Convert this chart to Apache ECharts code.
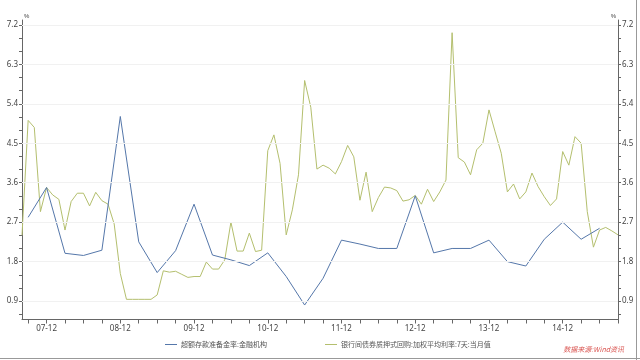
<!DOCTYPE html>
<html><head><meta charset="utf-8">
<script src="https://cdn.jsdelivr.net/npm/echarts@6/dist/echarts.min.js"></script>
<style>html,body{margin:0;padding:0;background:#fff}#c{width:640px;height:360px}</style>
</head><body><div id="c"></div>
<script>
// Monthly categories Aug 2007 .. Sep 2015
const startYear = 2007, startMonth = 8, monthCount = 98;
const months = [];
for (let i = 0; i < monthCount; i++) {
  const t = startYear * 12 + (startMonth - 1) + i;
  const y = Math.floor(t / 12), m = t % 12 + 1;
  months.push(y + '-' + (m < 10 ? '0' + m : '' + m));
}
const seriesBlueName = '超额存款准备金率:金融机构';
const seriesGreenName = '银行间债券质押式回购:加权平均利率:7天:当月值';
// quarterly excess reserve ratio
const blueQuarters = ['2007-09','2007-12','2008-03','2008-06','2008-09','2008-12','2009-03','2009-06','2009-09','2009-12',
  '2010-03','2010-06','2010-09','2010-12','2011-03','2011-06','2011-09','2011-12','2012-03','2012-06','2012-09','2012-12',
  '2013-03','2013-06','2013-09','2013-12','2014-03','2014-06','2014-09','2014-12','2015-03','2015-06'];
const blueValues = [2.81,3.49,1.99,1.94,2.06,5.11,2.25,1.55,2.05,3.11,1.95,1.84,1.71,2.00,1.46,0.81,1.42,2.29,2.20,2.10,2.10,3.30,
  2.00,2.10,2.10,2.29,1.80,1.70,2.31,2.70,2.31,2.56];
// monthly 7-day repo rate
const greenValues = [2.40,5.02,4.86,2.94,3.49,3.32,3.22,2.52,3.17,3.36,3.36,3.07,3.38,3.19,3.11,2.66,1.53,0.94,0.94,0.94,
  0.94,0.94,1.04,1.59,1.56,1.58,1.51,1.44,1.46,1.46,1.79,1.63,1.63,1.84,2.70,2.04,2.04,2.45,2.03,2.06,
  4.33,4.69,4.04,2.41,2.98,3.78,5.93,5.32,3.91,4.00,3.93,3.80,4.08,4.45,4.19,3.20,3.84,2.94,3.26,3.50,
  3.48,3.42,3.18,3.21,3.31,3.11,3.45,3.17,3.39,3.66,7.02,4.17,4.07,3.78,4.35,4.50,5.26,4.76,4.27,3.39,
  3.57,3.23,3.39,3.82,3.51,3.28,3.08,3.23,4.31,4.00,4.65,4.50,2.94,2.13,2.52,2.58,2.50,2.41];
const yLabelValues = [0.9,1.8,2.7,3.6,4.5,5.4,6.3,7.2];
const yTickValues = [0.6,0.9,1.2,1.5,1.8,2.1,2.4,2.7,3.0,3.3,3.6,3.9,4.2,4.5,4.8,5.1,5.4,5.7,6.0,6.3,6.6,6.9,7.2];
const sourceText = '数据来源:Wind资讯';

const blueColor = '#5577aa', greenColor = '#b4bf6e', axisColor = '#666', labelColor = '#444';
const numFont = 'Noto Sans', cjkFont = 'Noto Sans CJK SC';

function yAxisDef(pos) {
  return {
    type: 'value', position: pos, min: 0.48, max: 7.31,
    name: '%', nameLocation: 'end', nameGap: 1,
    nameTextStyle: { fontSize: 6, color: labelColor, align: pos === 'left' ? 'left' : 'right', padding: pos === 'left' ? [0,0,0,2] : [0,2,0,0] },
    axisLine: { show: true, lineStyle: { color: axisColor, width: 1 } },
    axisTick: { show: true, length: 3, lineStyle: { color: axisColor }, customValues: yTickValues },
    axisLabel: { color: labelColor, fontSize: 8, fontFamily: numFont, margin: 4, customValues: yLabelValues,
      formatter: v => Number(v).toFixed(1) },
    splitLine: { show: false }
  };
}

const chart = echarts.init(document.getElementById('c'), null, { renderer: 'canvas' });
chart.setOption({
  backgroundColor: '#fff',
  animation: false,
  grid: { left: 22, right: 22, top: 20, bottom: 40.5, containLabel: false },
  xAxis: {
    type: 'category', data: months, boundaryGap: false,
    axisLine: { lineStyle: { color: axisColor, width: 1 } },
    axisTick: { length: 4, lineStyle: { color: axisColor },
      interval: (i, v) => parseInt(v.slice(5), 10) % 3 === 0 },
    axisLabel: { color: labelColor, fontSize: 8, fontFamily: numFont, margin: 5,
      interval: (i, v) => v.slice(5) === '12',
      formatter: v => v.slice(2, 4) + '-' + v.slice(5) },
    splitLine: { show: false }
  },
  yAxis: [yAxisDef('left'), yAxisDef('right')],
  legend: [
    { left: 160, top: 336, icon: 'rect', itemWidth: 12, itemHeight: 1, itemGap: 4, data: [seriesBlueName],
      textStyle: { fontSize: 7, color: '#555', fontFamily: cjkFont, padding: [0,0,0,-1] } },
    { left: 320, top: 336, icon: 'rect', itemWidth: 12, itemHeight: 1, itemGap: 4, data: [seriesGreenName],
      textStyle: { fontSize: 7, color: '#555', fontFamily: cjkFont, padding: [0,0,0,-1] } }
  ],
  series: [
    {
      name: seriesBlueName, type: 'line', yAxisIndex: 0,
      data: blueQuarters.map((q, i) => [q, blueValues[i]]),
      showSymbol: false, symbol: 'none', z: 3,
      lineStyle: { color: blueColor, width: 1 }, itemStyle: { color: blueColor },
      markLine: { silent: true, symbol: 'none', label: { show: false },
        lineStyle: { color: '#f1f1f1', width: 1, type: 'solid' },
        data: yLabelValues.map(v => ({ yAxis: v })) }
    },
    {
      name: seriesGreenName, type: 'line', yAxisIndex: 0,
      data: greenValues,
      showSymbol: false, symbol: 'none', z: 2,
      lineStyle: { color: greenColor, width: 1 }, itemStyle: { color: greenColor }
    }
  ],
  graphic: [
    { type: 'text', right: 16, top: 346, style: { text: sourceText, fill: '#d9534f', font: 'italic 7px "Noto Sans CJK SC"' } },
    { type: 'line', shape: { x1: 0, y1: 358.5, x2: 640, y2: 358.5 }, style: { stroke: '#999', lineWidth: 1 } },
    { type: 'line', shape: { x1: 636.5, y1: 0, x2: 636.5, y2: 360 }, style: { stroke: '#999', lineWidth: 1 } }
  ]
});
</script></body></html>
